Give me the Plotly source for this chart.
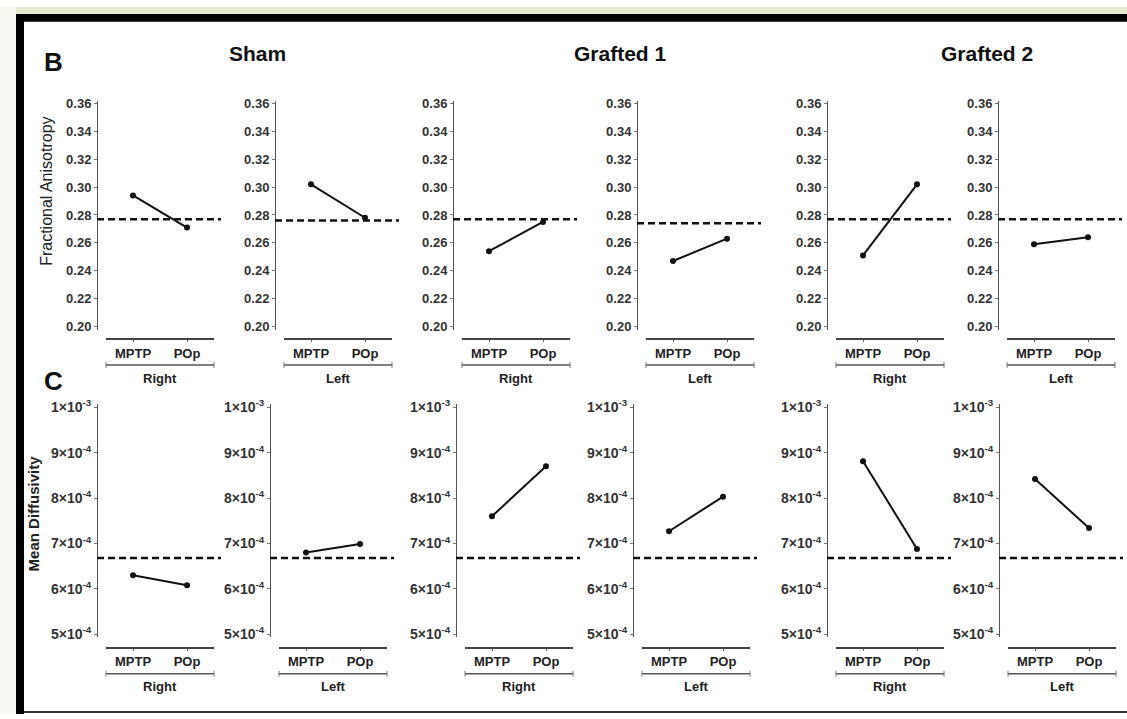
import plotly.graph_objects as go

W, H = 1127, 719


def px(x):
    return x / W


def py(y):
    return 1 - y / H


# ---------------- data ----------------
groups = ["Sham", "Grafted 1", "Grafted 2"]
sides = ["Right", "Left", "Right", "Left", "Right", "Left"]
conditions = ["MPTP", "POp"]

fa_mptp = [0.294, 0.302, 0.254, 0.247, 0.251, 0.259]
fa_pop = [0.271, 0.278, 0.275, 0.263, 0.302, 0.264]
fa_ref = [0.277, 0.276, 0.277, 0.274, 0.277, 0.277]
fa_ticks = [0.20, 0.22, 0.24, 0.26, 0.28, 0.30, 0.32, 0.34, 0.36]
fa_labels = ["0.20", "0.22", "0.24", "0.26", "0.28", "0.30", "0.32", "0.34", "0.36"]

md_mptp = [6.30e-4, 6.80e-4, 7.60e-4, 7.27e-4, 8.81e-4, 8.42e-4]
md_pop = [6.08e-4, 6.99e-4, 8.70e-4, 8.03e-4, 6.88e-4, 7.34e-4]
md_ref = [6.68e-4, 6.68e-4, 6.68e-4, 6.68e-4, 6.68e-4, 6.68e-4]
md_ticks = [5e-4, 6e-4, 7e-4, 8e-4, 9e-4, 1e-3]
md_labels = ["5×10<sup>-4</sup>", "6×10<sup>-4</sup>", "7×10<sup>-4</sup>",
             "8×10<sup>-4</sup>", "9×10<sup>-4</sup>", "1×10<sup>-3</sup>"]

# ---------------- layout geometry ----------------
rows = [
    dict(mptp=fa_mptp, pop=fa_pop, ref=fa_ref, tickvals=fa_ticks, ticktext=fa_labels,
         tick_size=13,
         top_px=96, bot_px=328, vtop=0.36, vtop_px=98, vbot=0.20, vbot_px=325,
         axis_x=[97, 275, 453, 637, 827, 998], xline=338, bracket=364, group=378,
         title="Fractional Anisotropy", title_x=47, title_y=188, title_size=16,
         title_weight="normal", letter="B", letter_y=56),
    dict(mptp=md_mptp, pop=md_pop, ref=md_ref, tickvals=md_ticks, ticktext=md_labels,
         tick_size=14,
         top_px=404, bot_px=641, vtop=1e-3, vtop_px=407, vbot=5e-4, vbot_px=638,
         axis_x=[97, 270, 456, 633, 827, 999], xline=652, bracket=678, group=691,
         title="Mean Diffusivity", title_x=33, title_y=515, title_size=15,
         title_weight="bold", letter="C", letter_y=380),
]

fig = go.Figure()
shapes = []
annotations = []
layout_axes = {}

FONT = "Liberation Sans, Arial, sans-serif"

for r, spec in enumerate(rows):
    scale = (spec["vtop"] - spec["vbot"]) / (spec["vbot_px"] - spec["vtop_px"])
    yrange = [spec["vbot"] - (spec["bot_px"] - spec["vbot_px"]) * scale,
              spec["vtop"] + (spec["vtop_px"] - spec["top_px"]) * scale]
    for c in range(6):
        n = r * 6 + c + 1
        ax = spec["axis_x"][c]
        xs = "x" if n == 1 else f"x{n}"
        ys = "y" if n == 1 else f"y{n}"
        xk = "xaxis" if n == 1 else f"xaxis{n}"
        yk = "yaxis" if n == 1 else f"yaxis{n}"

        fig.add_trace(go.Scatter(
            x=[0, 1], y=[spec["mptp"][c], spec["pop"][c]],
            mode="lines+markers",
            line=dict(color="#111111", width=2),
            marker=dict(color="#111111", size=6),
            xaxis=xs, yaxis=ys, showlegend=False, cliponaxis=False,
        ))

        layout_axes[xk] = dict(
            domain=[px(ax + 9), px(ax + 117)], range=[-0.5, 1.5],
            anchor="free", position=py(spec["xline"]),
            showline=True, linecolor="#444444", linewidth=1.5,
            tickmode="array", tickvals=[0, 1], ticktext=conditions,
            ticks="outside", ticklen=2, tickcolor="#666666",
            tickfont=dict(family=FONT, size=13, color="#222222", weight="bold"),
            showgrid=False, zeroline=False, fixedrange=True,
        )
        layout_axes[yk] = dict(
            domain=[py(spec["bot_px"]), py(spec["top_px"])], range=yrange,
            anchor="free", position=px(ax),
            showline=True, linecolor="#555555", linewidth=1,
            tickmode="array", tickvals=spec["tickvals"], ticktext=spec["ticktext"],
            ticks="outside", ticklen=3, tickcolor="#777777",
            tickfont=dict(family=FONT, size=spec["tick_size"], color="#333333", weight="bold"),
            showgrid=False, zeroline=False, fixedrange=True,
        )

        # reference (dashed) line
        shapes.append(dict(type="line", xref="paper", yref=ys,
                           x0=px(ax), x1=px(ax + 124),
                           y0=spec["ref"][c], y1=spec["ref"][c],
                           line=dict(color="#111111", width=2.5, dash="7px,4px")))
        # side bracket
        b = spec["bracket"]
        shapes.append(dict(type="line", xref="paper", yref="paper",
                           x0=px(ax + 9), x1=px(ax + 117), y0=py(b), y1=py(b),
                           line=dict(color="#555555", width=1.5)))
        for ex in (ax + 9, ax + 117):
            shapes.append(dict(type="line", xref="paper", yref="paper",
                               x0=px(ex), x1=px(ex), y0=py(b - 3), y1=py(b + 3),
                               line=dict(color="#777777", width=1)))
        annotations.append(dict(text=sides[c], x=px(ax + 63), y=py(spec["group"]),
                                xref="paper", yref="paper", showarrow=False,
                                xanchor="center", yanchor="middle",
                                font=dict(family=FONT, size=13, color="#222222", weight="bold")))

    annotations.append(dict(text=spec["title"], x=px(spec["title_x"]), y=py(spec["title_y"]),
                            xref="paper", yref="paper", showarrow=False, textangle=-90,
                            xanchor="center", yanchor="middle",
                            font=dict(family=FONT, size=spec["title_size"], color="#222222",
                                      weight=spec["title_weight"])))
    annotations.append(dict(text=spec["letter"], x=px(53), y=py(spec["letter_y"]),
                            xref="paper", yref="paper", showarrow=False,
                            xanchor="center", yanchor="middle",
                            font=dict(family=FONT, size=26, color="#111111", weight="bold")))

for g, gx in zip(groups, [257, 620, 987]):
    annotations.append(dict(text=g, x=px(gx), y=py(47), xref="paper", yref="paper",
                            showarrow=False, xanchor="center", yanchor="middle",
                            font=dict(family=FONT, size=21, color="#111111", weight="bold")))

# frame / page decoration
frame = [
    dict(type="rect", xref="paper", yref="paper", x0=0, x1=1, y0=py(7), y1=1,
         fillcolor="#e4ebd0", line=dict(width=0), layer="below"),
    dict(type="rect", xref="paper", yref="paper", x0=0, x1=px(16), y0=0, y1=1,
         fillcolor="#f7f9f0", line=dict(width=0), layer="below"),
    dict(type="rect", xref="paper", yref="paper", x0=px(16), x1=1, y0=py(15), y1=py(7),
         fillcolor="#000000", line=dict(width=0), layer="below"),
    dict(type="rect", xref="paper", yref="paper", x0=px(16), x1=px(24), y0=0, y1=py(7),
         fillcolor="#000000", line=dict(width=0), layer="below"),
    dict(type="rect", xref="paper", yref="paper", x0=px(24), x1=1, y0=py(718), y1=py(716),
         fillcolor="#333333", line=dict(width=0), layer="below"),
]

fig.update_layout(
    width=W, height=H, margin=dict(l=0, r=0, t=0, b=0),
    paper_bgcolor="white", plot_bgcolor="rgba(0,0,0,0)",
    shapes=frame + shapes, annotations=annotations,
    showlegend=False, **layout_axes,
)

fig.write_html("out.html", config={"displayModeBar": False},
               post_script="document.body.style.margin='0';")
